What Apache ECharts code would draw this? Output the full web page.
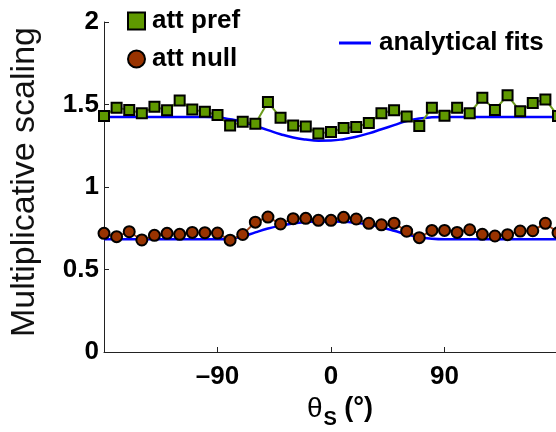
<!DOCTYPE html>
<html>
<head>
<meta charset="utf-8">
<script src="https://cdn.jsdelivr.net/npm/echarts@6/dist/echarts.min.js"></script>
<style>
  html, body { margin: 0; padding: 0; background: #fff; }
  #chart { width: 556px; height: 432px; }
</style>
</head>
<body>
<div id="chart"></div>
<script>
// angles (deg) of the measured points, every 10 deg
const angles = [-180, -170, -160, -150, -140, -130, -120, -110, -100, -90,
  -80, -70, -60, -50, -40, -30, -20, -10, 0, 10, 20, 30, 40, 50, 60, 70,
  80, 90, 100, 110, 120, 130, 140, 150, 160, 170, 180]

// att pref (green squares)
const attPref = [1.430, 1.481, 1.467, 1.447, 1.487, 1.465, 1.525, 1.469, 1.456, 1.436,
  1.372, 1.396, 1.384, 1.515, 1.420, 1.372, 1.366, 1.325, 1.333, 1.358, 1.364, 1.388,
  1.447, 1.465, 1.428, 1.370, 1.481, 1.432, 1.481, 1.447, 1.541, 1.467, 1.556, 1.459,
  1.509, 1.531, 1.430]

// att null (red circles)
const attNull = [0.719, 0.699, 0.729, 0.679, 0.707, 0.719, 0.713, 0.725, 0.723, 0.721,
  0.678, 0.712, 0.787, 0.818, 0.776, 0.808, 0.810, 0.798, 0.798, 0.816, 0.806, 0.780,
  0.771, 0.781, 0.732, 0.693, 0.737, 0.737, 0.725, 0.741, 0.713, 0.703, 0.711, 0.733,
  0.735, 0.780, 0.723]

// analytical fits at the same angles
const fitPref = [1.424, 1.424, 1.424, 1.424, 1.424, 1.424, 1.424, 1.424, 1.424, 1.422,
  1.410, 1.395, 1.370, 1.345, 1.320, 1.300, 1.288, 1.281, 1.282, 1.290, 1.305, 1.325,
  1.350, 1.375, 1.400, 1.415, 1.422, 1.424, 1.424, 1.424, 1.424, 1.424, 1.424, 1.424,
  1.424, 1.424, 1.424]
const fitNull = [0.683, 0.683, 0.683, 0.683, 0.683, 0.683, 0.683, 0.683, 0.683, 0.683,
  0.686, 0.700, 0.725, 0.748, 0.766, 0.779, 0.787, 0.791, 0.791, 0.789, 0.782, 0.772,
  0.755, 0.735, 0.713, 0.695, 0.686, 0.683, 0.683, 0.683, 0.683, 0.683, 0.683, 0.683,
  0.683, 0.683, 0.683]

const xTicks = [-180, -90, 0, 90, 180]
const yTicks = [0, 0.5, 1, 1.5, 2]

const pairs = (ys) => angles.map((a, i) => [a, ys[i]])

const FONT = 'Liberation Sans'
const chart = echarts.init(document.getElementById('chart'))

chart.setOption({
  animation: false,
  grid: { left: 104, right: -2, top: 22, bottom: 80, outerBoundsMode: 'none', containLabel: false },
  legend: [
    {
      data: [{ name: 'att pref', icon: 'rect' }, { name: 'att null', icon: 'circle' }],
      orient: 'vertical', left: 127, top: 8, itemGap: 12, padding: 0,
      itemWidth: 17, itemHeight: 17,
      textStyle: { fontFamily: FONT, fontSize: 26, fontWeight: 'bold', color: '#000', padding: [0, 0, 0, 2] }
    },
    {
      data: [{ name: 'analytical fits', icon: 'rect' }],
      left: 339, top: 30, itemWidth: 32, itemHeight: 3, padding: 0,
      textStyle: { fontFamily: FONT, fontSize: 26, fontWeight: 'bold', color: '#000', padding: [0, 0, 0, 3] }
    }
  ],
  xAxis: {
    type: 'value', min: xTicks[0], max: xTicks[xTicks.length - 1], interval: 90,
    axisLine: { onZero: false, lineStyle: { color: '#222', width: 1 } },
    axisTick: { inside: true, length: 5, lineStyle: { color: '#222' } },
    splitLine: { show: false },
    axisLabel: {
      margin: 12, lineHeight: 26, color: '#000', fontFamily: FONT, fontSize: 26, fontWeight: 'bold',
      formatter: (v) => (v === -180 || v === 180) ? '' : String(v).replace('-', '\u2013')
    },
    // θ_S (°), subscript pushed down with top padding
    name: '{t|θ}{s|S}{p| (°)}',
    nameLocation: 'middle', nameGap: 42,
    nameTextStyle: {
      padding: [0, 0, 0, 18],
      rich: {
        t: { fontFamily: FONT, fontSize: 28, color: '#000', lineHeight: 32, verticalAlign: 'top' },
        s: { fontFamily: FONT, fontSize: 20, fontWeight: 'bold', color: '#000', lineHeight: 20, padding: [15, 0, 0, 1], verticalAlign: 'top' },
        p: { fontFamily: FONT, fontSize: 27, fontWeight: 'bold', color: '#000', lineHeight: 32, verticalAlign: 'top' }
      }
    }
  },
  yAxis: {
    type: 'value', min: yTicks[0], max: yTicks[yTicks.length - 1], interval: 0.5,
    axisLine: { show: true, onZero: false, lineStyle: { color: '#222', width: 1 } },
    axisTick: { show: true, inside: true, length: 5, lineStyle: { color: '#222' } },
    splitLine: { show: false },
    axisLabel: { margin: 5, color: '#000', fontFamily: FONT, fontSize: 26, fontWeight: 'bold' },
    name: 'Multiplicative scaling',
    nameLocation: 'middle', nameGap: 62,
    nameTextStyle: { fontFamily: FONT, fontSize: 34, color: '#111', padding: [0, 0, 0, 10] }
  },
  series: [
    {
      name: 'analytical fits', type: 'line', data: pairs(fitPref), smooth: true,
      symbol: 'none', clip: false, z: 2,
      itemStyle: { color: '#0000ff' }, lineStyle: { color: '#0000ff', width: 2.5 }
    },
    {
      name: 'analytical fits', type: 'line', data: pairs(fitNull), smooth: true,
      symbol: 'none', clip: false, z: 2,
      itemStyle: { color: '#0000ff' }, lineStyle: { color: '#0000ff', width: 2.5 }
    },
    {
      name: 'att pref', type: 'line', data: pairs(attPref),
      symbol: 'rect', symbolSize: 10, clip: false, z: 3,
      itemStyle: { color: '#5f9900', borderColor: '#000', borderWidth: 2 },
      lineStyle: { color: '#6b9b1c', width: 2 }
    },
    {
      name: 'att null', type: 'line', data: pairs(attNull),
      symbol: 'circle', symbolSize: 11, clip: false, z: 3,
      itemStyle: { color: '#993300', borderColor: '#000', borderWidth: 2 },
      lineStyle: { color: '#a3461c', width: 2 }
    }
  ]
})
</script>
</body>
</html>
